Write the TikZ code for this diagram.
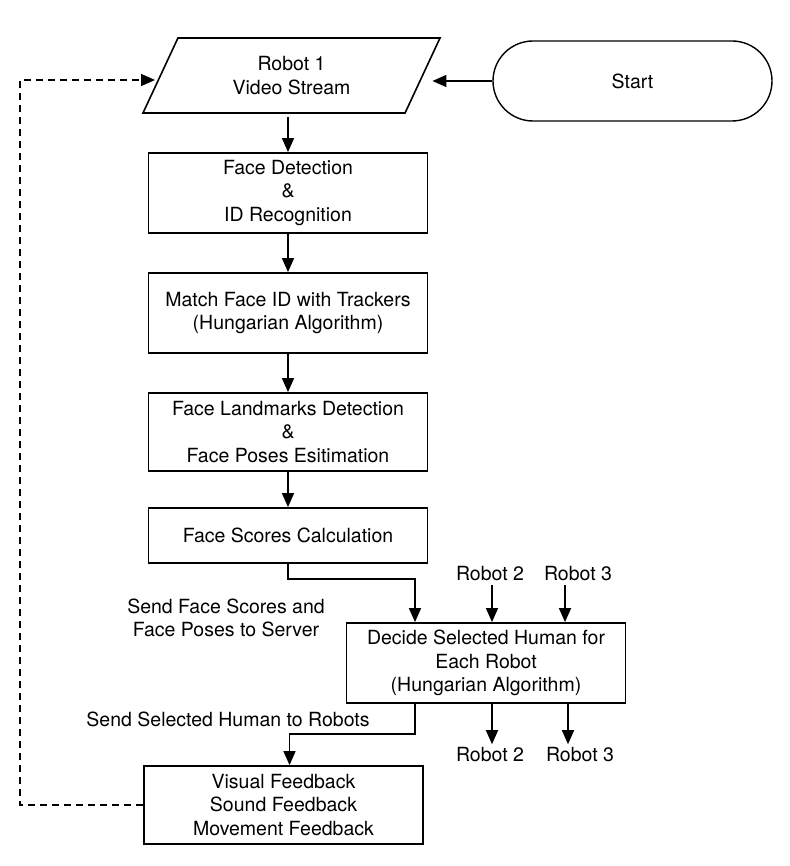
\documentclass[tikz,border=0pt]{standalone}
\usepackage{fontspec}
\setmainfont{TeX Gyre Heros}
\usetikzlibrary{arrows.meta,shapes.geometric}

\tikzset{
	box/.style={draw, line width=1.8pt, minimum width=279pt, minimum height=80pt, align=center},
	io/.style={draw, trapezium, trapezium left angle=52, trapezium right angle=128, trapezium stretches body, minimum width=297pt, minimum height=75pt, line width=1.6pt, align=center},
	terminal/.style={draw, rounded corners=40pt, minimum width=279pt, minimum height=80pt, line width=1.4pt},
	flow/.style={line width=1.6pt, -{Triangle[length=14pt,width=12pt]}},
	loopline/.style={flow, dash pattern=on 7pt off 5pt},
	lbl/.style={align=center}
}

\begin{document}
\begin{tikzpicture}[x=1pt, y=-1pt, font=\fontsize{19.5}{23.5}\selectfont]
			%%%%% START %%%%%
			\useasboundingbox (0,0) rectangle (789,866);
			
			\node[io] (video) at (291.5, 75.5) {Robot 1\\Video Stream};
			\node[terminal] (start) at (632.5, 81) {Start};
			
			\node[box] (detect) at (288, 193) {Face Detection\\\&\\ID Recognition};
			\node[box] (match) at (288, 313) {Match Face ID with Trackers\\(Hungarian Algorithm)};
			\node[box, minimum height=78pt] (landmarks) at (288, 432) {Face Landmarks Detection\\\&\\Face Poses Esitimation};
			\node[box, minimum height=55pt] (scores) at (288, 535.5) {Face Scores Calculation};
			
			\node[box] (decide) at (486, 663) {Decide Selected Human for\\Each Robot\\(Hungarian Algorithm)};
			\node[box, minimum height=78pt] (feedback) at (283.5, 805) {Visual Feedback\\Sound Feedback\\Movement Feedback};
			
			\node[lbl] (sendscores) at (226, 618) {Send Face Scores and\\Face Poses to Server};
			\node[lbl] (sendhuman) at (228, 719) {Send Selected Human to Robots};
			
			\node (r2in) at (490, 574) {Robot 2};
			\node (r3in) at (578, 574) {Robot 3};
			\node (r2out) at (490, 755) {Robot 2};
			\node (r3out) at (580, 755) {Robot 3};
			
			\coordinate (loop) at (20, 80);
			\coordinate (loopend) at (155, 80);
			
			% main chain
			\draw[flow, shorten >=9pt] (start.west) -- (start.west -| video.east);
			\draw[flow] ([yshift=-3pt]video.south -| detect.north) -- (detect.north);
			\draw[flow] (detect.south) -- (match.north);
			\draw[flow] (match.south) -- (landmarks.north);
			\draw[flow] (landmarks.south) -- (scores.north);
			\draw[flow] (scores.south) -- ++(0, 15) -| ([xshift=-71pt]decide.north);
			\draw[flow] ([xshift=-71pt]decide.south) -- ++(0, 30) -| ([xshift=6pt]feedback.north);
			
			% other robots
			\draw[flow] ([xshift=2pt]r2in.south) -- ([xshift=6pt]decide.north);
			\draw[flow] ([xshift=-13pt]r3in.south) -- ([xshift=79pt]decide.north);
			\draw[flow] ([xshift=6pt]decide.south) -- ([xshift=2pt]r2out.north);
			\draw[flow] ([xshift=82pt]decide.south) -- ([xshift=-12pt]r3out.north);
			
			% feedback loop
			\draw[loopline] (feedback.west) -| (loop) -- (loopend);
			
			%%%%% END %%%%%
\end{tikzpicture}
\end{document}
